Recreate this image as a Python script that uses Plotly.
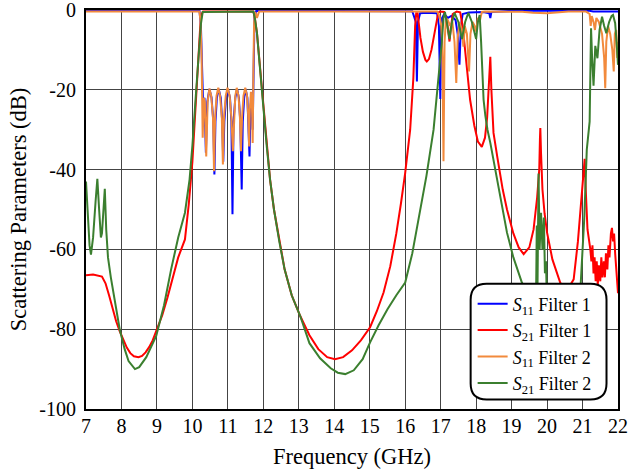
import plotly.graph_objects as go

# ---------------- data ----------------
x_ticks = [7, 8, 9, 10, 11, 12, 13, 14, 15, 16, 17, 18, 19, 20, 21, 22]
x_tick_text = ["7", "8", "9", "10", "11", "12", "13", "14", "15", "16", "17", "18", "19", "20", "21", "22"]
y_ticks = [-100, -80, -60, -40, -20, 0]
y_tick_text = ["-100", "-80", "-60", "-40", "-20", "0"]

# S11 Filter 1 (blue)
s11f1_f = [7.0, 10.20, 10.24, 10.28, 10.31, 10.34, 10.38, 10.42, 10.48, 10.54, 10.59, 10.62, 10.65, 10.69, 10.74,
           10.80, 10.84, 10.87, 10.90, 10.95, 11.00, 11.06, 11.10, 11.13, 11.16, 11.21, 11.26, 11.31, 11.35,
           11.39, 11.42, 11.46, 11.50, 11.55, 11.58, 11.61, 11.64, 11.67, 11.70, 11.72, 11.75, 11.80,
           16.20, 16.30, 16.33, 16.36, 16.42, 16.60, 16.90, 16.95, 16.97, 16.99, 17.01, 17.04, 17.10, 17.20,
           17.30, 17.42, 17.48, 17.53, 17.57, 17.62, 17.80, 18.20, 18.37, 18.40, 18.43, 19.0, 21.2, 21.3, 22.2]
s11f1_db = [-0.2, -0.2, -4, -15, -26, -22, -35.8, -23, -19.8, -22, -28, -41.2, -28, -22, -19.8,
            -22, -28, -38, -28, -22, -19.8, -22, -28, -51.2, -28, -22, -19.8, -22, -28,
            -45, -28, -22, -19.8, -22, -28, -36.7, -24, -22, -30, -12, -2, -0.2,
            -0.3, -3, -17.9, -3, -0.8, -0.7, -0.8, -4, -10, -22.3, -10, -2, -1, -2,
            -1.5, -2.5, -6, -13.7, -4, -1, -0.6, -0.5, -0.8, -2, -0.5, -0.2, -0.2, -0.4, -0.4]

# S21 Filter 1 (red)
s21f1_f = [7.0, 7.2, 7.45, 7.55, 7.65, 7.75, 7.85, 7.95, 8.05, 8.15, 8.25, 8.35, 8.48, 8.58, 8.68, 8.78,
           8.88, 9.0, 9.15, 9.3, 9.45, 9.6, 9.79, 9.9, 10.0, 10.1, 10.18, 10.22, 10.26, 10.3,
           11.72, 11.76, 11.82, 11.9, 12.0, 12.1, 12.19, 12.3, 12.45, 12.6, 12.8, 13.04, 13.3, 13.55,
           13.8, 14.02, 14.25, 14.5, 14.75, 15.01, 15.2, 15.39, 15.58, 15.75, 15.88, 16.0, 16.14, 16.23,
           16.28, 16.31, 16.35, 16.38, 16.43, 16.5, 16.57, 16.61, 16.67, 16.74, 16.82, 16.88, 16.93,
           16.97, 17.1, 17.18, 17.22, 17.25, 17.28, 17.34, 17.45, 17.55, 17.62, 17.7, 17.83, 17.95, 18.05,
           18.16, 18.25, 18.31, 18.36, 18.4, 18.43, 18.46, 18.49, 18.6, 18.75, 18.87, 19.05, 19.2, 19.34,
           19.5, 19.62, 19.72, 19.78, 19.8, 19.81, 19.83, 19.87, 19.93, 20.0, 20.15, 20.37, 20.55, 20.75,
           20.87, 20.98, 21.03, 21.06, 21.09, 21.14, 21.22, 21.25, 21.28, 21.31, 21.34, 21.37, 21.4,
           21.43, 21.46, 21.5, 21.53, 21.56, 21.6, 21.63, 21.66, 21.7, 21.73, 21.76, 21.8, 21.83, 21.86,
           21.89, 21.92, 21.95, 21.98, 22.0]
s21f1_db = [-66.5, -66.3, -66.8, -68.5, -71.5, -75, -78, -80.5, -82.8, -84.6, -86, -86.8, -87, -86.7, -85.8, -84.5,
            -82.8, -80, -76.5, -72, -67, -62, -57.5, -48.5, -38, -23, -9, -4.2, -1, -0.4,
            -0.4, -2, -5.75, -14, -25, -34.5, -42.5, -50, -58, -65, -71.5, -76.7, -81.5, -85,
            -87, -87.5, -87, -85.3, -82.8, -79.5, -75.5, -70.8, -64.2, -56, -48.5, -40.8, -30, -17,
            -4, -0.8, -0.8, -3, -7, -10.5, -12.5, -12.9, -12.3, -10, -6.5, -3, -0.8,
            -0.4, -0.5, -3, -6, -7.9, -5, -1, -0.4, -0.6, -4, -11, -22.5, -29, -33,
            -34.3, -32, -27, -19, -11.7, -20, -28, -30.8, -37, -45, -50, -56, -59.5, -61.2,
            -59.5, -55, -47, -40, -32, -29.6, -36, -45, -51, -55.8, -62.5, -68.3, -70.5, -67.5,
            -58, -45, -39, -37.3, -45, -55, -60, -63, -59, -66, -62, -68, -63,
            -69, -64, -68, -62, -67, -63, -67, -61, -65, -59, -62, -56, -54.6, -58,
            -56, -61, -66, -69, -71]

# S11 Filter 2 (orange)
s11f2_f = [7.0, 10.20, 10.23, 10.26, 10.29, 10.32, 10.35, 10.39, 10.43, 10.48, 10.53, 10.58, 10.61, 10.64, 10.68,
           10.73, 10.78, 10.83, 10.86, 10.89, 10.94, 10.99, 11.05, 11.10, 11.14, 11.18, 11.21, 11.25, 11.30,
           11.34, 11.37, 11.40, 11.44, 11.49, 11.54, 11.57, 11.60, 11.62, 11.65, 11.68, 11.70, 11.72, 11.74,
           11.77, 11.82, 11.88, 16.90, 16.97, 17.02, 17.05, 17.08, 17.11, 17.15, 17.20, 17.27, 17.33, 17.39,
           17.44, 17.48, 17.53, 17.60, 17.64, 17.68, 17.74, 17.80, 17.84, 17.90, 17.96, 18.00, 18.05, 18.11,
           18.16, 18.25, 19.3, 19.6, 20.0, 20.3, 20.6, 21.10, 21.20, 21.23, 21.26, 21.31, 21.35, 21.39, 21.46,
           21.55, 21.61, 21.64, 21.67, 21.72, 21.78, 21.84, 21.88, 21.91, 21.95, 21.98, 22.0]
s11f2_db = [-0.4, -0.4, -3, -12, -32, -22, -23, -36.7, -23, -19.7, -21.5, -27, -40.4, -27, -21.5,
            -19.5, -21.5, -27, -38.7, -27, -21.5, -19.5, -21.5, -27, -35.4, -27, -21.5, -19.5, -21.5,
            -27, -35.4, -27, -21.5, -19.5, -21.5, -26, -34.2, -25, -20.5, -24, -33.3, -15, -3,
            -0.5, -2, -0.4, -0.4, -1.5, -4, -12, -37.9, -8, -2, -2.5, -4, -3, -8,
            -18.3, -7, -3, -5, -9.2, -4, -6, -15.4, -6, -3, -4, -5.4, -2, -2.5,
            -0.5, -0.4, -0.45, -0.7, -0.8, -0.6, -0.4, -0.4, -1, -4, -1.5, -3, -5, -2, -3,
            -6, -12, -19.6, -8, -4, -6, -10, -15.4, -6, -5, -12, -8]

# S21 Filter 2 (green)
s21f2_f = [7.0, 7.05, 7.1, 7.14, 7.2, 7.27, 7.32, 7.37, 7.42, 7.45, 7.5, 7.53, 7.57, 7.62, 7.7, 7.81, 7.95,
           8.09, 8.2, 8.38, 8.5, 8.7, 8.98, 9.2, 9.4, 9.6, 9.79, 9.92, 10.0, 10.1, 10.18, 10.24, 10.29,
           11.72, 11.76, 11.82, 11.9, 12.0, 12.1, 12.19, 12.3, 12.45, 12.6, 12.8, 13.04, 13.3, 13.6, 13.9,
           14.1, 14.31, 14.55, 14.8, 15.01, 15.25, 15.5, 15.75, 16.0, 16.2, 16.42, 16.6, 16.8, 16.92, 17.03,
           17.08, 17.12, 17.17, 17.25, 17.32, 17.39, 17.5, 17.6, 17.69, 17.78, 17.88, 18.0, 18.05, 18.1,
           18.14, 18.18, 18.21, 18.26, 18.32, 18.4, 18.5, 18.65, 18.87, 19.05, 19.29, 19.45, 19.6, 19.69,
           19.71, 19.73, 19.76, 19.79, 19.83, 19.87, 19.91, 19.94, 19.97, 20.0, 20.3, 20.6, 20.8, 20.94,
           21.05, 21.12, 21.2, 21.22, 21.24, 21.27, 21.31, 21.36, 21.42, 21.48, 21.55, 21.61, 21.67, 21.75,
           21.82, 21.86, 21.92, 21.96, 22.0]
s21f2_db = [-43, -52, -59, -61.3, -57, -48, -42.3, -50, -57, -56, -48, -44.8, -55, -62, -67, -72.5, -80,
            -85, -88, -90, -89.5, -87, -81.7, -74, -65, -57, -50.8, -42.5, -34, -21, -10, -3.5, -0.5,
            -0.4, -2, -5.75, -14, -25, -34.5, -42.5, -50, -58, -65, -71.5, -76.7, -83.5, -87.3, -89.8,
            -90.9, -91.25, -90.3, -87.5, -83.3, -79, -75, -71.5, -68.3, -61, -50.8, -41.5, -30, -19, -8.3,
            -2, -0.5, -3, -7.3, -3, -0.7, -3, -7.3, -3, -0.7, -3, -7.3, -3, -1.25,
            -8, -16, -22.5, -26.5, -30, -33.3, -38, -46, -55.8, -62, -68.3, -71.5, -73, -72,
            -54, -70, -41, -60, -50.8, -60, -52, -66, -63, -75, -85, -82, -75, -70,
            -52, -35, -28, -19.2, -4.6, -12, -19, -9, -12.1, -5, -1.7, -4, -5.8, -3,
            -1.5, -1.25, -3.3, -8, -13.75]

# ---------------- figure ----------------
font_family = "Liberation Serif"

fig = go.Figure()
fig.add_trace(go.Scatter(x=s11f1_f, y=s11f1_db, mode="lines", name="<i>S</i><sub>11</sub> Filter 1",
                         line=dict(color="#0000ff", width=2)))
fig.add_trace(go.Scatter(x=s21f1_f, y=s21f1_db, mode="lines", name="<i>S</i><sub>21</sub> Filter 1",
                         line=dict(color="#ff0000", width=2)))
fig.add_trace(go.Scatter(x=s11f2_f, y=s11f2_db, mode="lines", name="<i>S</i><sub>11</sub> Filter 2",
                         line=dict(color="#f28a3c", width=2)))
fig.add_trace(go.Scatter(x=s21f2_f, y=s21f2_db, mode="lines", name="<i>S</i><sub>21</sub> Filter 2",
                         line=dict(color="#3b7f2f", width=2)))

# rounded legend frame (paper coords)
pw, ph = 532.5, 399.5
x0, x1 = (471 - 86) / pw, (607 - 86) / pw
y0, y1 = (409.5 - 400) / ph, (409.5 - 284) / ph
rx, ry = 16 / pw, 16 / ph
path = (f"M {x0+rx},{y0} L {x1-rx},{y0} Q {x1},{y0} {x1},{y0+ry} "
        f"L {x1},{y1-ry} Q {x1},{y1} {x1-rx},{y1} "
        f"L {x0+rx},{y1} Q {x0},{y1} {x0},{y1-ry} "
        f"L {x0},{y0+ry} Q {x0},{y0} {x0+rx},{y0} Z")
fig.add_shape(type="path", path=path, xref="paper", yref="paper",
              line=dict(color="black", width=2), fillcolor="white", layer="above")

fig.update_layout(
    width=628, height=472,
    margin=dict(l=86, r=9.5, t=10, b=62.5, autoexpand=False),
    paper_bgcolor="white", plot_bgcolor="white",
    font=dict(family=font_family, size=20, color="black"),
    showlegend=True,
    legend=dict(x=(473 - 86) / pw, y=(409.5 - 402) / ph, xanchor="left", yanchor="bottom",
                bgcolor="rgba(0,0,0,0)", borderwidth=0,
                font=dict(family=font_family, size=18, color="black"),
                tracegroupgap=0, itemwidth=30),
)
fig.update_xaxes(range=[7, 22], tickmode="array", tickvals=x_ticks, ticktext=x_tick_text,
                 showgrid=True, gridcolor="#444444", gridwidth=1,
                 showline=True, linecolor="black", linewidth=2, mirror=True,
                 ticks="", zeroline=False, automargin=False,
                 tickfont=dict(size=20), ticklabelstandoff=-2, ticklabeloverflow="allow",
                 title=dict(text="Frequency (GHz)", font=dict(size=22.5), standoff=12))
fig.update_yaxes(range=[-100, 0], tickmode="array", tickvals=y_ticks, ticktext=y_tick_text,
                 showgrid=True, gridcolor="#444444", gridwidth=1,
                 showline=True, linecolor="black", linewidth=2, mirror=True,
                 ticks="", zeroline=False, automargin=False,
                 tickfont=dict(size=20), ticklabelstandoff=4, ticklabeloverflow="allow",
                 title=dict(text="Scattering Parameters (dB)", font=dict(size=22.5), standoff=6))

fig.write_html("out.html", config={"displayModeBar": False},
               post_script="document.body.style.margin='0';")
